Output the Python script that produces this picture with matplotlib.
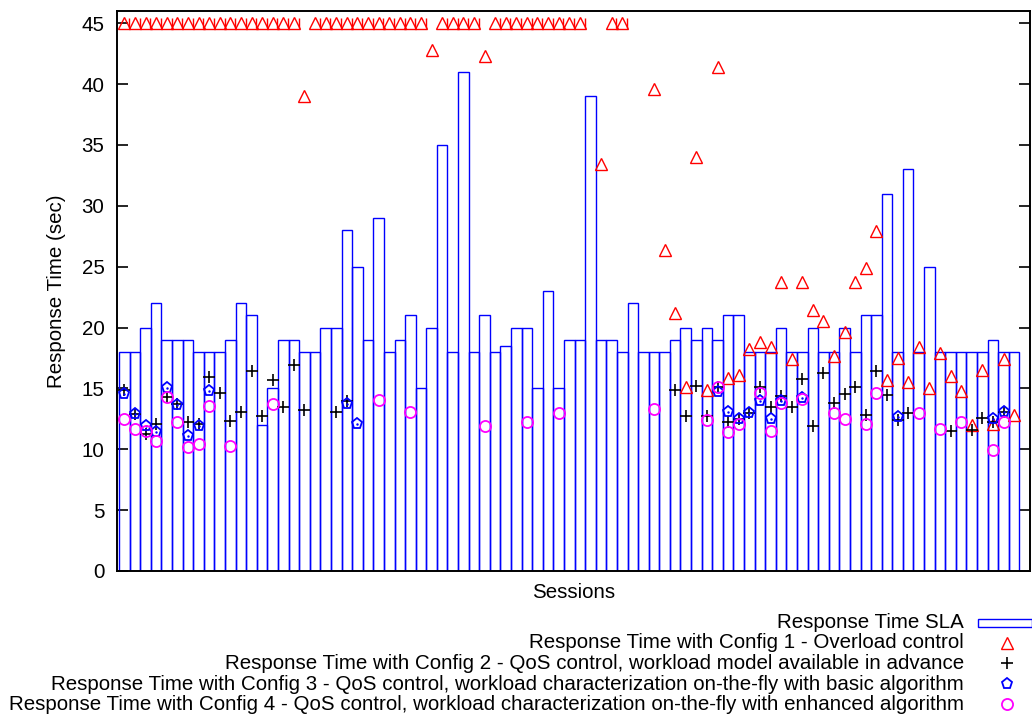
import matplotlib
matplotlib.use('Agg')
import matplotlib.pyplot as plt
from matplotlib.lines import Line2D
from matplotlib.patches import Rectangle
import numpy as np

plt.rcParams['font.family'] = ['Liberation Sans', 'DejaVu Sans']

nan = np.nan

sessions = list(range(1, 86))

# Response time SLA per session (sec)
sla = [18, 18, 20, 22, 19, 19, 19, 18, 18, 18, 19, 22, 21, 12, 15, 19, 19, 18, 18, 20,
       20, 28, 25, 19, 29, 18, 19, 21, 15, 20, 35, 18, 41, 18, 21, 18, 18.5, 20, 20, 15,
       23, 15, 19, 19, 39, 19, 19, 18, 22, 18, 18, 18, 19, 20, 19, 20, 19, 21, 21, 18,
       18, 18, 20, 18, 18, 20, 18, 18, 20, 18, 21, 21, 31, 18, 33, 18, 25, 18, 18, 18,
       18, 18, 19, 18, 18]

# Config 1 - Overload control (45 = capped)
cfg1 = [45, 45, 45, 45, 45, 45, 45, 45, 45, 45, 45, 45, 45, 45, 45, 45, 45, 39.0, 45, 45,
        45, 45, 45, 45, 45, 45, 45, 45, 45, 42.8, 45, 45, 45, 45, 42.3, 45, 45, 45, 45, 45,
        45, 45, 45, 45, nan, 33.4, 45, 45, nan, nan, 39.6, 26.35, 21.2, 15.1, 34.0, 14.86, 41.4, 15.85, 16.1, 18.2,
        18.8, 18.4, 23.7, 17.4, 23.7, 21.4, 20.55, 17.65, 19.6, 23.7, 24.9, 27.9, 15.7, 17.5, 15.5, 18.4, 15.0, 17.9, 16.0, 14.8,
        12.0, 16.55, 12.1, 17.4, 12.8]

# Config 2 - QoS control, workload model available in advance
cfg2 = [14.9, 12.9, 11.25, 12.1, 14.3, 13.75, 12.26, 12.07, 15.9, 14.64, 12.34, 13.03, 16.45, 12.75, 15.7, 13.5, 16.9, 13.25, nan, nan,
        13.1, 14.0, nan, nan, nan, nan, nan, nan, nan, nan, nan, nan, nan, nan, nan, nan, nan, nan, nan, nan,
        nan, nan, nan, nan, nan, nan, nan, nan, nan, nan, nan, nan, 14.86, 12.7, 15.2, 12.75, 15.1, 12.26, 12.5, 13.0,
        15.1, 13.5, 14.4, 13.5, 15.8, 11.9, 16.3, 13.8, 14.5, 15.1, 12.8, 16.4, 14.45, 12.4, 12.95, nan, nan, nan, 11.5, nan,
        11.6, 12.6, 12.26, 13.1, nan]

# Config 3 - on-the-fly characterization, basic algorithm
cfg3 = [14.5, 12.9, 11.9, 11.4, 15.0, 13.6, 11.1, 11.9, 14.8, nan, nan, nan, nan, nan, nan, nan, nan, nan, nan, nan,
        nan, 13.7, 12.1, nan, nan, nan, nan, nan, nan, nan, nan, nan, nan, nan, nan, nan, nan, nan, nan, nan,
        nan, nan, nan, nan, nan, nan, nan, nan, nan, nan, nan, nan, nan, nan, nan, nan, 14.7, 13.1, 12.5, 13.0,
        14.0, 12.5, 14.0, nan, 14.2, nan, nan, nan, nan, nan, nan, nan, nan, 12.67, nan, nan, nan, nan, nan, nan,
        nan, nan, 12.5, 13.1, nan]

# Config 4 - on-the-fly characterization, enhanced algorithm
cfg4 = [12.5, 11.7, 11.5, 10.7, 14.3, 12.26, 10.2, 10.4, 13.55, nan, 10.3, nan, nan, nan, 13.75, nan, nan, nan, nan, nan,
        nan, nan, nan, nan, 14.04, nan, nan, 13.1, nan, nan, nan, nan, nan, nan, 11.93, nan, nan, nan, 12.2, nan,
        nan, 13.0, nan, nan, nan, nan, nan, nan, nan, nan, 13.3, nan, nan, nan, nan, 12.4, 15.1, 11.4, 12.07, nan,
        14.6, 11.5, 13.8, nan, 14.1, nan, nan, 13.0, 12.45, nan, 12.05, 14.6, nan, nan, nan, 13.0, nan, 11.66, nan, 12.26,
        nan, nan, 9.9, 12.2, nan]

labels = ['Response Time SLA',
          'Response Time with Config 1 - Overload control',
          'Response Time with Config 2 - QoS control, workload model available in advance',
          'Response Time with Config 3 - QoS control, workload characterization on-the-fly with basic algorithm',
          'Response Time with Config 4 - QoS control, workload characterization on-the-fly with enhanced algorithm']

FS = 14.75

fig = plt.figure(figsize=(10.32, 7.18), dpi=100)
ax = fig.add_axes([117 / 1032, 147 / 718, 913 / 1032, 560 / 718])

x = np.array(sessions)
ax.bar(x, sla, width=1.0, fill=False, edgecolor='#0000ff', linewidth=1.0, zorder=2)

ax.plot(x, cfg1, linestyle='none', marker='^', ms=8, mfc='none', mec='#ff0000', mew=1.0,
        clip_on=False, zorder=3)
cap = np.array(cfg1) >= 45
ax.plot(x[cap] + 0.45, np.array(cfg1)[cap], linestyle='none', marker='|', ms=7,
        mec='#ff0000', mew=1.0, clip_on=False, zorder=3)
ax.plot(x, cfg2, linestyle='none', marker='+', ms=9, mec='black', mew=1.2, zorder=4)
ax.plot(x, cfg3, linestyle='none', marker='p', ms=8, mfc='none', mec='#0000ff', mew=1.3, zorder=4)
ax.plot(x, cfg3, linestyle='none', marker='.', ms=1.5, color='#0000ff', zorder=4)
ax.plot(x, cfg4, linestyle='none', marker='o', ms=8, mfc='none', mec='#ff00ff', mew=1.3, zorder=4)

ax.set_xlim(0.3, 86.5)
ax.set_ylim(0, 46)
ax.set_xticks([])
ax.set_yticks(range(0, 46, 5))
ax.tick_params(axis='y', direction='in', length=8, width=1.2, labelsize=FS, pad=9,
               right=True)
for s in ax.spines.values():
    s.set_linewidth(1.4)
ax.set_ylabel('Response Time (sec)', fontsize=FS, labelpad=11)
ax.set_xlabel('Sessions', fontsize=FS, labelpad=9)

# legend below the plot, right-aligned text with samples on the right
rows_y = [622.7, 642.7, 663.3, 684, 704.3]
for i, (lab, yy) in enumerate(zip(labels, rows_y)):
    fy = 1 - yy / 718
    fig.text(964 / 1032, fy, lab, ha='right', va='center', fontsize=FS)
    if i == 0:
        fig.add_artist(Rectangle((978 / 1032, fy - 4 / 718), 54 / 1032, 8 / 718,
                                 transform=fig.transFigure, fill=False,
                                 edgecolor='#0000ff', linewidth=1.0))
mx = [1006.5 / 1032]
styles = [dict(marker='^', ms=8, mfc='none', mec='#ff0000', mew=1.0),
          dict(marker='+', ms=9, mec='black', mew=1.2),
          dict(marker='p', ms=8, mfc='none', mec='#0000ff', mew=1.3),
          dict(marker='o', ms=8, mfc='none', mec='#ff00ff', mew=1.3)]
for st, yy in zip(styles, rows_y[1:]):
    fig.add_artist(Line2D(mx, [1 - yy / 718], linestyle='none',
                          transform=fig.transFigure, **st))

fig.savefig('out.png', dpi=100)
